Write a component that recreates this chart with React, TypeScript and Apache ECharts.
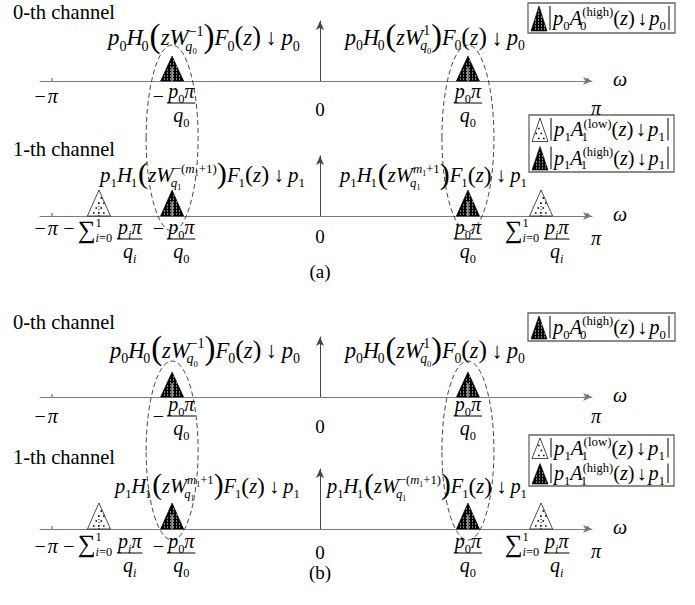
import React, { useEffect, useRef } from 'react';
import * as echarts from 'echarts';

// ---------------- data (frequencies in units of π) ----------------
const PANEL_LABELS = ['(a)', '(b)'];
const CHANNEL_LABELS = ['0-th channel', '1-th channel'];
const X_MIN = -1.045;
const X_MAX = 1.015;
const HIGH_BAND_CENTERS = [-0.552, 0.552]; // ±p0π/q0
const LOW_BAND_CENTERS = [-0.825, 0.825]; // ±Σ p_iπ/q_i
const BAND_HALF_WIDTH = 0.043;
const HIGH_BAND_HEIGHT = [25, 26]; // per channel
const LOW_BAND_HEIGHT = [0, 26]; // only channel 1 has a low band
const EDGE_TICKS = [-1, 1];
const Y_MAX = 60;

// ---------------- layout ----------------
const AXIS_Y = [[81, 216], [397, 529]];
const FORM_X = [
  [[[108, 300], [345, 525]], [[100, 305], [340, 527]]],
  [[[110, 300], [345, 525]], [[115, 300], [327, 527]]],
];
const FORM_BASE = [[45, 182], [358, 493]];
const CH_Y = [[13, 150], [323, 458]];
const BARS = [[103, 239], [416, 553]];
const MPI_Y = [[98, 230], [418, 548]];
const ZERO_Y = [[110, 237], [427, 553]];
const PI_Y = [[110, 240], [418, 553]];
const PANEL_Y = [272, 573];
const LEG1 = [[528, 3, 147, 30], [528, 313, 147, 28]];
const LEG2 = [[529, 115, 145, 57], [529, 435, 145, 51]];
const ELL = [[45, 231], [361, 540]];

const SERIF = 'Liberation Serif, serif';

let mctx: CanvasRenderingContext2D | null = null;
function measure(t: string, size: number, italic?: boolean) {
  if (!mctx) mctx = document.createElement('canvas').getContext('2d');
  mctx!.font = `${italic ? 'italic ' : ''}${size}px ${SERIF}`;
  return mctx!.measureText(t).width;
}

function T(text: string, x: number, baseline: number, size: number, italic = false, align = 'left') {
  return {
    type: 'text', x, y: baseline - 0.34 * size, silent: true, z: 10,
    style: {
      text, fill: '#000', fontSize: size, fontFamily: SERIF,
      fontStyle: italic ? 'italic' : 'normal', textAlign: align, textVerticalAlign: 'middle',
    },
  };
}
function L(x1: number, y1: number, x2: number, y2: number, color = '#000', w = 1) {
  return { type: 'line', silent: true, z: 10, shape: { x1, y1, x2, y2 }, style: { stroke: color, lineWidth: w } };
}

type Tok = { t: string; it?: boolean; s?: number; dy?: number; dx?: number; sub?: Tok[]; sup?: Tok[]; sbx?: number; sby?: number; spy?: number };
const I = (t: string, o: Partial<Tok> = {}): Tok => ({ t, it: true, ...o });
const U = (t: string, o: Partial<Tok> = {}): Tok => ({ t, ...o });
const pS = (n: string) => I('p', { sub: [U(n)] });

function lay(toks: Tok[], x: number, base: number, size: number, out: any[] | null): number {
  let cx = x;
  for (const k of toks) {
    const fs = size * (k.s ?? 1);
    const w = k.t ? measure(k.t, fs, k.it) : 0;
    if (out && k.t) out.push(T(k.t, cx, base + (k.dy ?? 0) * size, fs, !!k.it));
    let sw = 0;
    if (k.sub) {
      const off = (k.sbx ?? 0) * size;
      sw = Math.max(sw, off + lay(k.sub, cx + w + off, base + (k.sby ?? 0.24) * size, size * 0.62, out));
    }
    if (k.sup) sw = Math.max(sw, lay(k.sup, cx + w, base + (k.spy ?? -0.42) * size, size * 0.62, out));
    cx += w + sw + (k.dx ?? 0) * size;
  }
  return cx - x;
}
function fit(toks: Tok[], x0: number, x1: number, base: number, size0: number, out: any[]) {
  const w = lay(toks, 0, 0, size0, null);
  lay(toks, x0, base, (size0 * (x1 - x0)) / w, out);
}
function fracWidth(num: Tok[], den: Tok[], size: number) {
  return Math.max(lay(num, 0, 0, size, null), lay(den, 0, 0, size, null)) + 2;
}
function frac(num: Tok[], den: Tok[], cx: number, bar: number, size: number, out: any[]) {
  const wn = lay(num, 0, 0, size, null);
  const wd = lay(den, 0, 0, size, null);
  const wb = Math.max(wn, wd) + 2;
  lay(num, cx - wn / 2, bar - 0.25 * size, size, out);
  lay(den, cx - wd / 2, bar + 0.95 * size, size, out);
  out.push(L(cx - wb / 2, bar, cx + wb / 2, bar));
}

type Piece = { toks?: Tok[]; mid?: boolean; dy?: number; num?: Tok[]; den?: Tok[] };
function axisLabel(pieces: Piece[], cx: number, bar: number, midY: number, size: number, out: any[]) {
  const gap = 3;
  const ws = pieces.map((p) => (p.num ? fracWidth(p.num, p.den!, size) : lay(p.toks!, 0, 0, size, null)));
  const total = ws.reduce((a, b) => a + b, 0) + gap * (pieces.length - 1);
  let x = cx - total / 2;
  pieces.forEach((p, i) => {
    if (p.num) frac(p.num, p.den!, x + ws[i] / 2, bar, size, out);
    else lay(p.toks!, x, p.mid ? midY + 0.25 * size : bar + (p.dy ?? 0), size, out);
    x += ws[i] + gap;
  });
}

const MINUS: Piece = { toks: [U('−')], mid: true };
const P0FRAC: Piece = { num: [pS('0'), I('π')], den: [I('q', { sub: [U('0')] })] };
const PIFRAC: Piece = { num: [I('p', { sub: [I('i')] }), I('π')], den: [I('q', { sub: [I('i')] })] };
const SIGMA: Piece = {
  toks: [U('∑', { s: 1.25, sub: [I('i'), U('=0')], sup: [U('1')], sby: 0.22, spy: -0.55, dx: 0.1 })],
  dy: -1,
};

const NEG_M = (): Tok[] => [U('−'), U('('), I('m', { sub: [U('1')] }), U('+'), U('1'), U(')')];
const POS_M = (): Tok[] => [I('m', { sub: [U('1')] }), U('+'), U('1')];

function filterFormula(ch: number, sup: Tok[]): Tok[] {
  const n = String(ch);
  return [
    pS(n), I('H', { sub: [U(n)], sbx: -0.06, dx: 0.04 }),
    U('(', { s: 1.45, dy: 0.06 }), I('z'),
    I('W', { sbx: -0.14, sub: [I('q', { sub: [U(n)] })], sup }),
    U(')', { s: 1.45, dy: 0.06 }),
    I('F', { sub: [U(n)], sbx: -0.05 }), U('(', { s: 1.15, dy: 0.03 }), I('z'), U(')', { s: 1.15, dy: 0.03, dx: 0.2 }),
    U('↓', { dx: 0.2 }), pS(n),
  ];
}
function legendFormula(ch: number, band: string): Tok[] {
  const n = String(ch);
  return [pS(n), I('A', { sbx: -0.1, sub: [U(n)], sup: [U(`(${band})`)] }), U('('), I('z'), U(')', { dx: 0.1 }), U('↓', { dx: 0.1 }), pS(n)];
}

// Triangle with a dotted texture: dark = black with white dots, light = white with black dots
function triangle(l: number[], t: number[], r: number[], dark: boolean, z = 0): any[] {
  const els: any[] = [
    { type: 'polygon', z, shape: { points: [l, t, r] }, style: { fill: dark ? '#000' : '#fff', stroke: '#000', lineWidth: dark ? 0.6 : 0.7 } },
  ];
  const step = dark ? 3 : 5;
  const dot = dark ? 1.1 : 1.6;
  const inside = (x: number, y: number) => {
    const cross = (a: number[], b: number[]) => (b[0] - a[0]) * (y - a[1]) - (b[1] - a[1]) * (x - a[0]);
    const d1 = cross(l, t), d2 = cross(t, r), d3 = cross(r, l);
    const neg = d1 < 0 || d2 < 0 || d3 < 0, pos = d1 > 0 || d2 > 0 || d3 > 0;
    return !(neg && pos);
  };
  const y0 = Math.min(t[1], l[1]), y1 = Math.max(t[1], l[1]);
  let row = 0;
  for (let y = y1 - (dark ? 2 : 3); y > y0 + 2; y -= step, row++) {
    const off = dark ? 0 : (row % 2) * (step / 2);
    for (let x = Math.floor(l[0]) + 1 + off; x < r[0]; x += step) {
      if (inside(x, y) && inside(x + dot, y) && inside(x, y - 1.5)) {
        els.push({ type: 'rect', z, shape: { x: x, y: y - dot / 2, width: dot, height: dot }, style: { fill: dark ? '#fff' : '#000' } });
      }
    }
  }
  return els;
}

export default function App() {
  const ref = useRef<HTMLDivElement>(null);
  useEffect(() => {
    const chart = echarts.init(ref.current!, null, { renderer: 'svg' });

    const grids: any[] = [], xAxes: any[] = [], yAxes: any[] = [], series: any[] = [];
    for (let p = 0; p < 2; p++) {
      for (let c = 0; c < 2; c++) {
        const gi = p * 2 + c;
        const Y = AXIS_Y[p][c];
        grids.push({ left: 40, top: Y - 60, width: 552, height: 60 });
        xAxes.push({
          gridIndex: gi, type: 'value', min: X_MIN, max: X_MAX,
          axisLine: { show: true, symbol: ['none', 'arrow'], symbolSize: [6, 9], lineStyle: { color: '#7a7a7a', width: 1 } },
          axisTick: { show: false }, axisLabel: { show: false }, splitLine: { show: false },
        });
        yAxes.push({
          gridIndex: gi, type: 'value', min: 0, max: Y_MAX,
          axisLine: { show: true, onZero: true, symbol: ['none', 'arrow'], symbolSize: [6, 9], lineStyle: { color: '#444', width: 1 } },
          axisTick: { show: false }, axisLabel: { show: false }, splitLine: { show: false },
        });
        const data: number[][] = [];
        HIGH_BAND_CENTERS.forEach((v) => data.push([v, BAND_HALF_WIDTH, HIGH_BAND_HEIGHT[c], 1]));
        if (LOW_BAND_HEIGHT[c] > 0) LOW_BAND_CENTERS.forEach((v) => data.push([v, BAND_HALF_WIDTH, LOW_BAND_HEIGHT[c], 0]));
        EDGE_TICKS.forEach((v) => data.push([v, 0, 0, 2]));
        series.push({
          type: 'custom', xAxisIndex: gi, yAxisIndex: gi, clip: false, silent: true,
          encode: { x: [0], y: [2] },
          data,
          renderItem: (_params: any, api: any) => {
            const v = api.value(0), hw = api.value(1), h = api.value(2), k = api.value(3);
            const b = api.coord([v, 0]);
            if (k === 2) return { type: 'line', shape: { x1: b[0], y1: b[1], x2: b[0], y2: b[1] - 3 }, style: { stroke: '#555', lineWidth: 1 } };
            const l = api.coord([v - hw, 0]), t = api.coord([v, h]), r = api.coord([v + hw, 0]);
            const kids = triangle(l, t, r, k === 1);
            kids.push({ type: 'line', shape: { x1: b[0], y1: b[1], x2: b[0], y2: b[1] + (t[1] - b[1]) * 0.55 }, style: { stroke: k === 1 ? '#fff' : '#000', lineWidth: 1, lineDash: k === 1 ? null : [1, 2] } });
            return { type: 'group', children: kids };
          },
        });
      }
    }

    chart.setOption({ animation: false, grid: grids, xAxis: xAxes, yAxis: yAxes, series });

    const out: any[] = [];
    const px = (gi: number, v: number) => (chart.convertToPixel({ gridIndex: gi } as any, [v, 0]) as number[])[0];
    const axisEnd = (gi: number) => px(gi, X_MAX);

    for (let p = 0; p < 2; p++) {
      HIGH_BAND_CENTERS.forEach((v) => {
        const cx = px(p * 2, v);
        const [top, bot] = ELL[p];
        out.push({ type: 'ellipse', silent: true, z: 5, shape: { cx, cy: (top + bot) / 2, rx: 26, ry: (bot - top) / 2 }, style: { fill: 'none', stroke: '#333', lineWidth: 0.9, lineDash: [5, 3] } });
      });
      for (let c = 0; c < 2; c++) {
        const gi = p * 2 + c;
        const Y = AXIS_Y[p][c];
        const nm = CHANNEL_LABELS[c];
        const nw = measure(nm, 19);
        out.push(T(nm, 13, CH_Y[p][c] + 6, (19 * 102) / nw));
        let supL: Tok[], supR: Tok[];
        if (c === 0) { supL = [U('−'), U('1')]; supR = [U('1')]; }
        else if (p === 0) { supL = NEG_M(); supR = POS_M(); }
        else { supL = POS_M(); supR = NEG_M(); }
        const fx = FORM_X[p][c];
        fit(filterFormula(c, supL), fx[0][0], fx[0][1], FORM_BASE[p][c], 19, out);
        fit(filterFormula(c, supR), fx[1][0], fx[1][1], FORM_BASE[p][c], 19, out);
        const bar = BARS[p][c], mid = MPI_Y[p][c], S = 20;
        const mpi = [U('−', { dx: 0.1 }), I('π')];
        lay(mpi, px(gi, -1) - 6 - lay(mpi, 0, 0, S, null) / 2, mid + 0.25 * S, S, out);
        if (c === 1) axisLabel([MINUS, SIGMA, PIFRAC], px(gi, LOW_BAND_CENTERS[0]) + 4, bar, mid, S, out);
        axisLabel([MINUS, P0FRAC], px(gi, HIGH_BAND_CENTERS[0]) + 2, bar, mid, S, out);
        axisLabel([P0FRAC], px(gi, HIGH_BAND_CENTERS[1]), bar, mid, S, out);
        if (c === 1) axisLabel([SIGMA, PIFRAC], px(gi, LOW_BAND_CENTERS[1]) - 4, bar, mid, S, out);
        out.push(T('0', px(gi, 0), ZERO_Y[p][c] + 6, 19, false, 'center'));
        out.push(T('π', px(gi, 1) + 8, PI_Y[p][c] + 5, 20, true, 'center'));
        out.push(T('ω', axisEnd(gi) + 28, Y + 5, 20, true, 'center'));
      }
      out.push(T(PANEL_LABELS[p], 320, PANEL_Y[p] + 6, 19, false, 'center'));

      const box = (b: number[], rows: { kind: number; toks: Tok[] }[]) => {
        const [x, y, w, h] = b;
        out.push({ type: 'rect', silent: true, z: 8, shape: { x, y, width: w, height: h }, style: { fill: '#fff', stroke: '#666', lineWidth: 1.3 } });
        const rh = h / rows.length;
        rows.forEach((r, i) => {
          const top = y + i * rh;
          triangle([x + 3, top + rh - 2], [x + 11, top + 3], [x + 19, top + rh - 2], !!r.kind, 9).forEach((e) => out.push({ ...e, silent: true }));
          out.push(L(x + 22, top + 3, x + 22, top + rh - 3));
          out.push(L(x + w - 6, top + 3, x + w - 6, top + rh - 3));
          fit(r.toks, x + 25, x + w - 9, top + rh * 0.5 + 7, 17, out);
        });
      };
      box(LEG1[p], [{ kind: 1, toks: legendFormula(0, 'high') }]);
      box(LEG2[p], [{ kind: 0, toks: legendFormula(1, 'low') }, { kind: 1, toks: legendFormula(1, 'high') }]);
    }

    chart.setOption({ graphic: { elements: out } });
    return () => chart.dispose();
  }, []);
  return <div ref={ref} style={{ position: 'fixed', left: 0, top: 0, width: 695, height: 605, background: '#fff' }} />;
}
